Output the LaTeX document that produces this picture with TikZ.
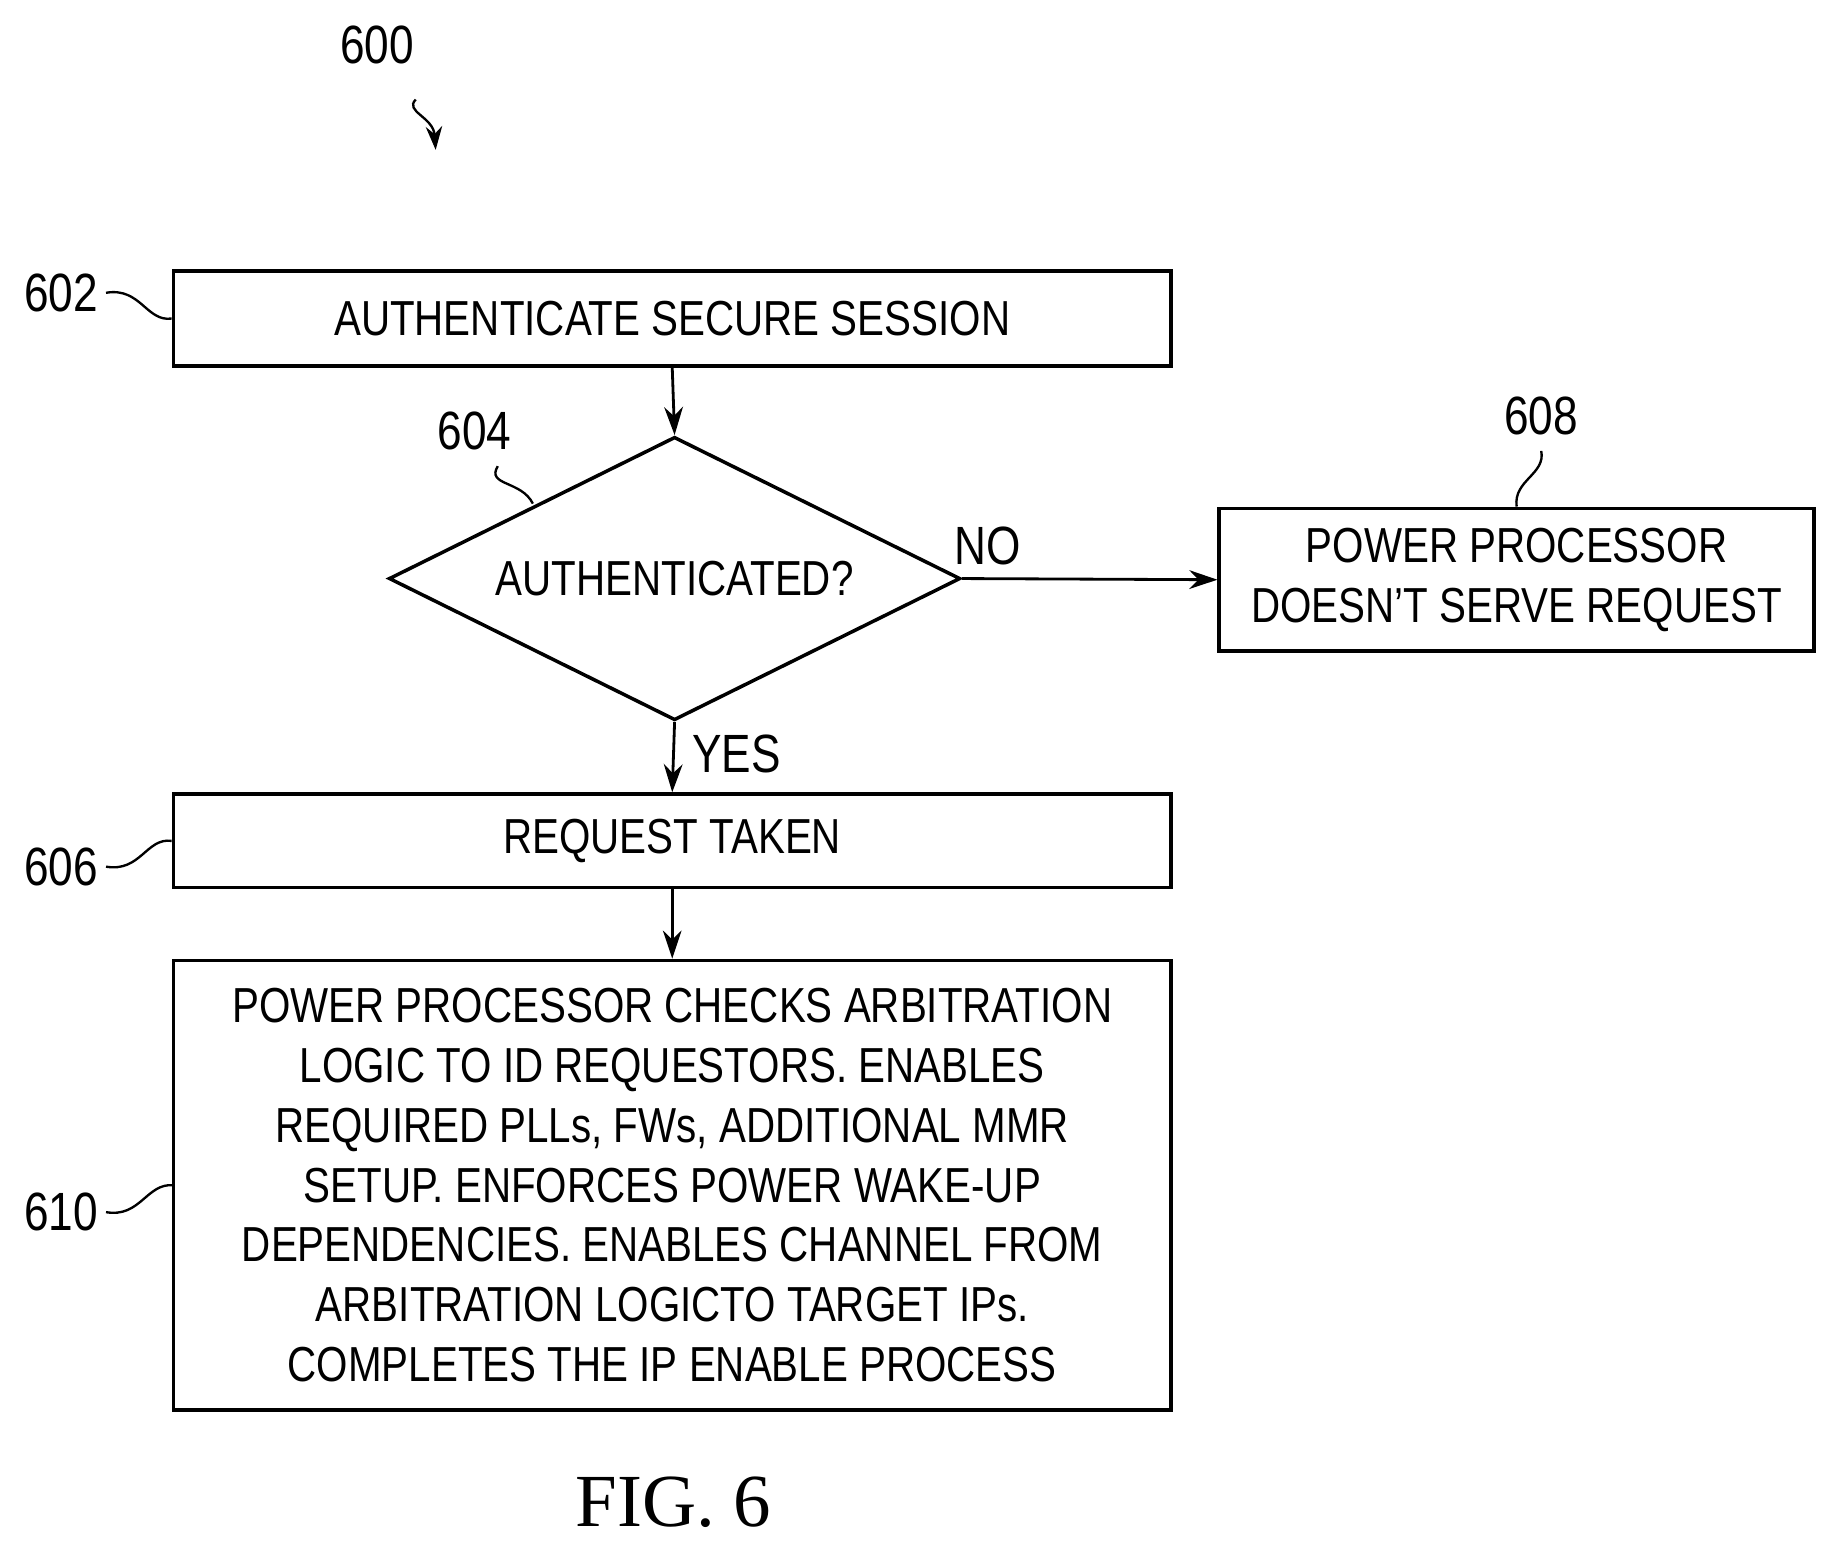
\documentclass[tikz,border=0pt]{standalone}
\usepackage{fontspec}
\setmainfont{Liberation Sans}[FakeStretch=0.82]
\newfontfamily\figfont{Liberation Serif}
\usetikzlibrary{arrows.meta,shapes.geometric}
\begin{document}
\begin{tikzpicture}[x=0.5pt,y=-0.5pt,
  box/.style={draw,line width=1.5pt,inner sep=0pt,font=\fontsize{21}{25.5}\selectfont,align=center},
  lbl/.style={font=\fontsize{23}{26}\selectfont},
  arr/.style={-{Stealth[length=12pt,width=8pt]},line width=1.2pt},
  sq/.style={line width=1pt}]
\useasboundingbox (0,0) rectangle (1560,1317);
\node[box,minimum width=426pt,minimum height=40.5pt] (b602) at (574,272) {AUTHENTICATE SECURE SESSION};
\node[box,diamond,aspect=2.02,minimum width=244pt,minimum height=121pt] (d604) at (576,494) {};
\node[font=\fontsize{21}{25}\selectfont] at (576,494) {AUTHENTICATED?};
\node[box,minimum width=254pt,minimum height=61pt] (b608) at (1295,495) {POWER PROCESSOR\\DOESN'T SERVE REQUEST};
\node[box,minimum width=426pt,minimum height=40pt] (b606) at (574,718) {REQUEST TAKEN};
\node[box,minimum width=426pt,minimum height=192pt] (b610) at (574,1012) {POWER PROCESSOR CHECKS ARBITRATION\\LOGIC TO ID REQUESTORS. ENABLES\\REQUIRED PLLs, FWs, ADDITIONAL MMR\\SETUP. ENFORCES POWER WAKE-UP\\DEPENDENCIES. ENABLES CHANNEL FROM\\ARBITRATION LOGICTO TARGET IPs.\\COMPLETES THE IP ENABLE PROCESS};
\draw[arr] (b602.south) -- (d604.north);
\draw[arr] (d604.south) -- (b606.north) node[pos=0.45,right=4pt,lbl]{YES};
\draw[arr] (d604.east) -- (b608.west) node[pos=0.1,above=2pt,lbl]{NO};
\draw[arr] (b606.south) -- (b610.north);
\node[lbl] (l600) at (322,38) {600};
\coordinate (t600) at (372,128);
\draw[sq,-{Stealth[length=10pt,width=7pt]}] (355,85) .. controls (345,95) and (370,100) .. (t600);
\node[lbl] (l602) at (52,250) {602};
\draw[sq] (l602.east) .. controls (120,245) and (125,275) .. (b602.west);
\node[lbl] (l606) at (52,740) {606};
\draw[sq] (l606.east) .. controls (120,745) and (125,715) .. (b606.west);
\node[lbl] (l610) at (52,1035) {610};
\draw[sq] (l610.east) .. controls (120,1040) and (125,1010) .. (148,1012);
\node[lbl] (l604) at (405,368) {604};
\draw[sq] (425,398) .. controls (415,415) and (445,410) .. (455,430);
\node[lbl] (l608) at (1316,355) {608};
\draw[sq] (1316,385) .. controls (1320,405) and (1292,410) .. (b608.north);
\node[font=\figfont\fontsize{32}{36}\selectfont] at (575,1283) {FIG. 6};
\end{tikzpicture}
\end{document}
